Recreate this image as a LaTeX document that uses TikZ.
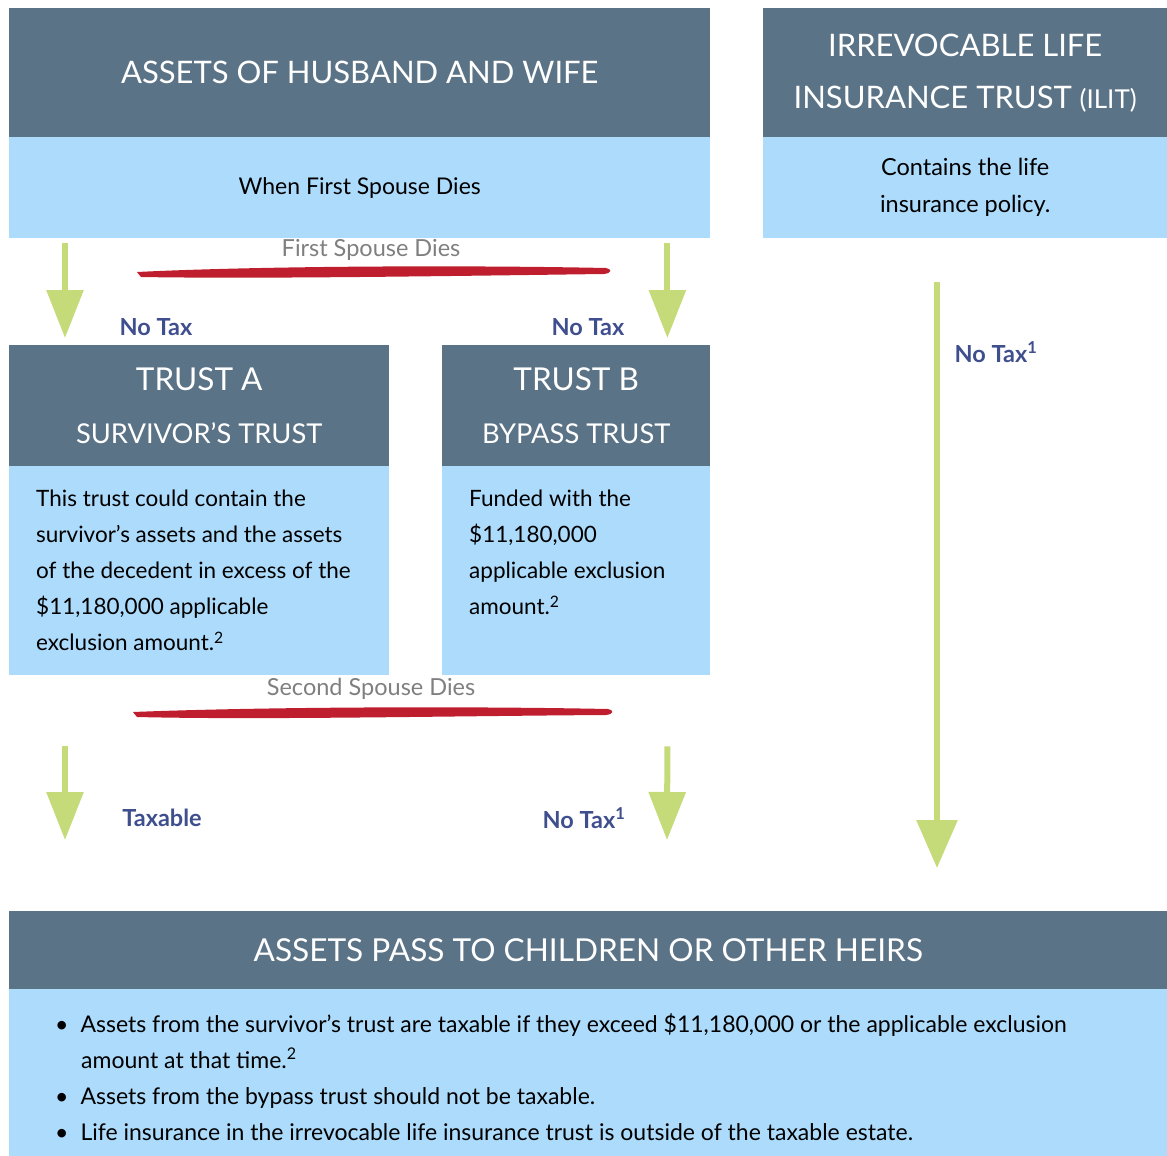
\documentclass[tikz,border=0pt]{standalone}
\usepackage{fontspec}
\setmainfont{Lato}
\usetikzlibrary{arrows.meta,calc}

\definecolor{headgray}{HTML}{5B7386}
\definecolor{bodyblue}{HTML}{ADDBFB}
\definecolor{flowgreen}{HTML}{C5DB7A}
\definecolor{taxblue}{HTML}{3F4F8E}
\definecolor{brushred}{HTML}{BE1E2D}
\definecolor{eventgray}{HTML}{7F7F7F}

\begin{document}
\begin{tikzpicture}[x=1pt,y=-1pt,
    head/.style={fill=headgray,text=white,anchor=north west,align=center,
      inner sep=0pt,font=\fontsize{31}{52}\selectfont},
    body/.style={fill=bodyblue,text=black,anchor=north west,inner sep=0pt,
      font=\fontsize{23}{36}\selectfont},
    txt/.style={text=black,anchor=north west,inner sep=0pt,align=left,
      font=\fontsize{23}{36}\selectfont},
    flow/.style={draw=flowgreen,line width=6pt,
      -{Triangle[width=36pt,length=48pt]}},
    lbl/.style={text=taxblue,font=\bfseries\fontsize{23.5}{26}\selectfont},
    event/.style={text=eventgray,font=\fontsize{23.5}{26}\selectfont},
    brush/.style={fill=brushred}]
  \useasboundingbox (0,0) rectangle (1167,1156);

  % top row
  \node[head,minimum width=701,minimum height=129] (hw) at (9,8)
    {ASSETS OF HUSBAND AND WIFE};
  \node[body,minimum width=701,minimum height=101] (hwb) at (9,137)
    {When First Spouse Dies};
  \node[head,minimum width=404,minimum height=129] (il) at (763,8)
    {IRREVOCABLE LIFE\\INSURANCE TRUST {\fontsize{26}{26}\selectfont(ILIT)}};
  \node[body,minimum width=404,minimum height=101,align=center,
    font=\fontsize{23.5}{37}\selectfont] (ilb) at (763,137)
    {Contains the life\\insurance policy.};

  % trusts
  \node[head,minimum width=380,minimum height=121] (tah) at (9,345)
    {{\fontsize{31.5}{40}\selectfont TRUST A}\\[2pt]
     {\fontsize{27.3}{30}\selectfont SURVIVOR'S TRUST}};
  \node[body,minimum width=380,minimum height=209] (tab) at (9,466) {};
  \node[txt,font=\fontsize{22.5}{36}\selectfont] (tat) at ($(tab.north west)+(27,24)$)
    {This trust could contain the\\survivor's assets and the assets\\
     of the decedent in excess of the\\\$11,180,000 applicable\\
     exclusion amount.\textsuperscript{2}};
  \node[head,minimum width=268,minimum height=121] (tbh) at (442,345)
    {{\fontsize{31.5}{40}\selectfont TRUST B}\\[2pt]
     {\fontsize{27.3}{30}\selectfont BYPASS TRUST}};
  \node[body,minimum width=268,minimum height=209] (tbb) at (442,466) {};
  \node[txt,font=\fontsize{22.5}{36}\selectfont] (tbt) at ($(tbb.north west)+(27,24)$)
    {Funded with the\\\$11,180,000\\applicable exclusion\\amount.\textsuperscript{2}};

  % heirs
  \node[head,minimum width=1158,minimum height=78,
    font=\fontsize{31.6}{36}\selectfont] (kh) at (9,911)
    {ASSETS PASS TO CHILDREN OR OTHER HEIRS};
  \node[body,minimum width=1158,minimum height=167] (kb) at (9,989) {};
  \node[txt] (kt) at ($(kb.north west)+(46,24)$)
    {\textbullet\hspace{12pt}Assets from the survivor's trust are taxable if they exceed \$11,180,000 or the applicable exclusion\\
     \hspace{26pt}amount at that time.\textsuperscript{2}\\
     \textbullet\hspace{12pt}Assets from the bypass trust should not be taxable.\\
     \textbullet\hspace{12pt}Life insurance in the irrevocable life insurance trust is outside of the taxable estate.};

  % deaths
  \node[event] (d1) at (371,250) {First Spouse Dies};
  \fill[brush] (137,272) .. controls (260,266) and (460,265) .. (606,268)
    .. controls (612,269) and (612,273) .. (604,274)
    .. controls (450,276) and (260,279) .. (141,277) -- cycle;
  \node[event] (d2) at (371,689) {Second Spouse Dies};
  \fill[brush] (133,712) .. controls (260,707) and (460,706) .. (608,709)
    .. controls (614,710) and (614,714) .. (606,715)
    .. controls (450,716) and (260,720) .. (137,717) -- cycle;

  % flows
  \draw[flow] ($(hwb.south west)+(56,5)$) -- ($(tah.north west)+(56,-7)$);
  \draw[flow] ($(hwb.south east)+(-43,5)$) -- ($(tbh.north east)+(-43,-7)$);
  \draw[flow] ($(tab.south west)+(56,71)$) -- ($(kh.north west)+(56,-71)$);
  \draw[flow] ($(tbb.south east)+(-43,71)$) -- ($(kh.north west)+(658,-71)$);
  \draw[flow,-{Triangle[width=40pt,length=48pt]}]
    ($(ilb.south west)+(174,44)$) -- ($(kh.north west)+(928,-43)$);

  \node[lbl] (n1) at (156,327) {No Tax};
  \node[lbl] (n2) at (588,327) {No Tax};
  \node[lbl] (n3) at (162,818) {Taxable};
  \node[lbl] (n4) at (584,818) {No Tax\textsuperscript{1}};
  \node[lbl] (n5) at (996,352) {No Tax\textsuperscript{1}};
\end{tikzpicture}
\end{document}
